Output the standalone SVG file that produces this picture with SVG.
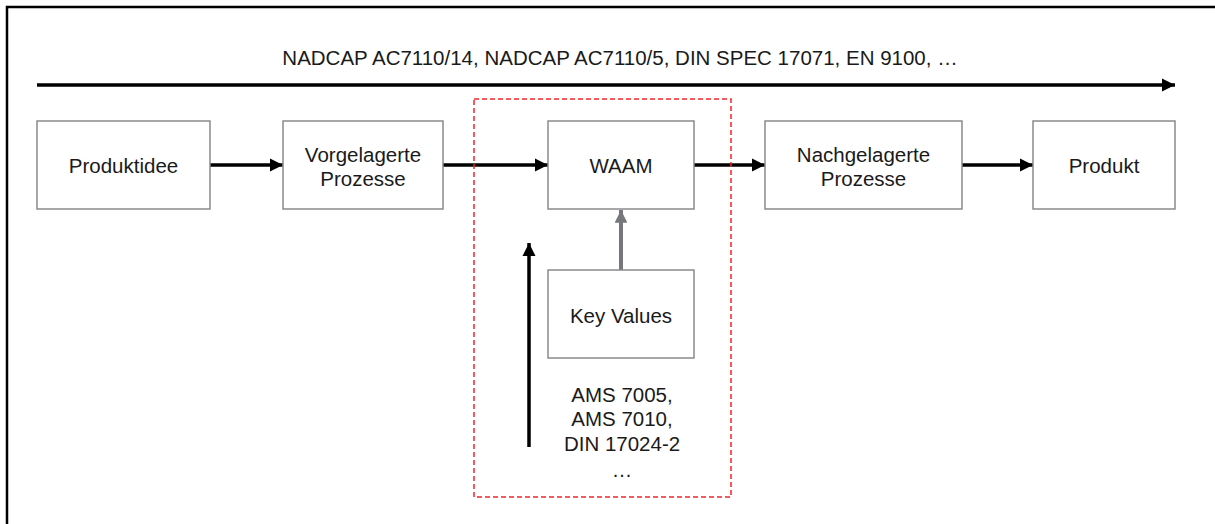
<svg xmlns="http://www.w3.org/2000/svg" width="1215" height="524" viewBox="0 0 1215 524">
<style>
  text { font-family: "Liberation Sans", Arial, sans-serif; font-size: 20.5px; fill: #1a1a1a; text-anchor: middle; }
  .box { fill: #ffffff; stroke: #8a8a8e; stroke-width: 1.5; }
  .conn { stroke: #000; stroke-width: 3.5; fill: none; }
</style>
<defs>
  <marker id="ah" viewBox="0 0 10 10" refX="10" refY="5" markerWidth="3.8" markerHeight="3.8" markerUnits="strokeWidth" orient="auto">
    <path d="M0,0 L10,5 L0,10 z" fill="#000"/>
  </marker>
  <marker id="ahg" viewBox="0 0 10 10" refX="10" refY="5" markerWidth="3.2" markerHeight="3.2" markerUnits="strokeWidth" orient="auto">
    <path d="M0,0 L10,5 L0,10 z" fill="#75777b"/>
  </marker>
</defs>
<rect x="0" y="0" width="1215" height="524" fill="#ffffff"/>
<rect x="7" y="7" width="1230" height="540" fill="none" stroke="#000" stroke-width="2.5"/>
<g id="title"><text x="620" y="65">NADCAP AC7110/14, NADCAP AC7110/5, DIN SPEC 17071, EN 9100, …</text></g>
<g id="connectors">
  <line class="conn" x1="37" y1="85" x2="1175" y2="85" marker-end="url(#ah)"/>
  <line class="conn" x1="210" y1="165" x2="283" y2="165" marker-end="url(#ah)"/>
  <line class="conn" x1="443" y1="165" x2="548" y2="165" marker-end="url(#ah)"/>
  <line class="conn" x1="694" y1="165" x2="765" y2="165" marker-end="url(#ah)"/>
  <line class="conn" x1="962" y1="165" x2="1033" y2="165" marker-end="url(#ah)"/>
  <line x1="621" y1="270" x2="621" y2="210" stroke="#75777b" stroke-width="4" marker-end="url(#ahg)"/>
  <line class="conn" x1="529" y1="447" x2="529" y2="243" marker-end="url(#ah)"/>
</g>
<g id="dashed-frame"><rect x="474" y="99" width="257" height="398" fill="none" stroke="#f0262c" stroke-width="1.5" stroke-dasharray="5,3"/></g>
<g id="produktidee"><rect class="box" x="37" y="121" width="173" height="88"/><text x="123.5" y="173">Produktidee</text></g>
<g id="vorgelagerte"><rect class="box" x="283" y="121" width="160" height="88"/><text x="363" y="162">Vorgelagerte</text><text x="363" y="186">Prozesse</text></g>
<g id="waam"><rect class="box" x="548" y="121" width="146" height="88"/><text x="621" y="173">WAAM</text></g>
<g id="nachgelagerte"><rect class="box" x="765" y="121" width="197" height="88"/><text x="863.5" y="162">Nachgelagerte</text><text x="863.5" y="186">Prozesse</text></g>
<g id="produkt"><rect class="box" x="1033" y="121" width="142" height="88"/><text x="1104" y="173">Produkt</text></g>
<g id="keyvalues"><rect class="box" x="548" y="270" width="146" height="88"/><text x="621" y="323">Key Values</text></g>
<g id="standards"><text x="622" y="402">AMS 7005,</text><text x="622" y="426">AMS 7010,</text><text x="622" y="451">DIN 17024-2</text><text x="622" y="477">…</text></g>
</svg>
